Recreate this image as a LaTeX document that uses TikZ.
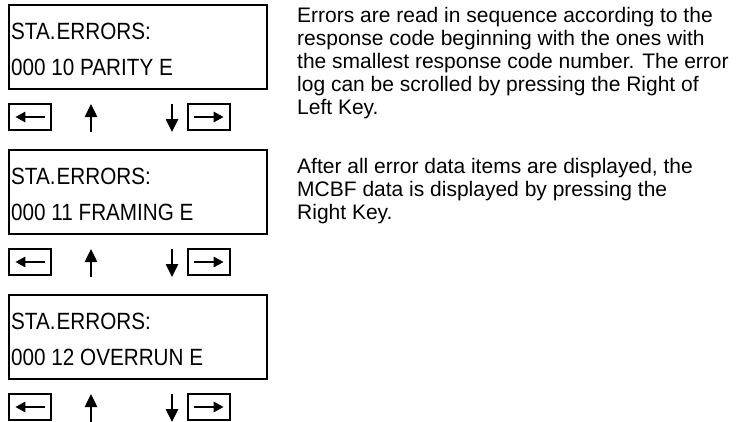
\documentclass[tikz,border=0pt]{standalone}
\usepackage{fontspec}
\setmainfont{Liberation Sans}
\newfontfamily\lcdfont[FakeStretch=0.88]{Liberation Sans}
\usetikzlibrary{arrows.meta, positioning, calc}

\begin{document}
\begin{tikzpicture}[x=1pt, y=-1pt,
    lcd/.style={draw, line width=2.6pt, minimum width=258pt,
                minimum height=84pt, inner sep=0pt},
    lcdtext/.style={anchor=base west, inner sep=0pt,
                    font=\lcdfont\fontsize{23.5}{26}\selectfont},
    keybox/.style={draw, line width=1.4pt, minimum width=42pt,
                   minimum height=26pt, inner sep=0pt},
    keyarrow/.style={-{Triangle[length=10pt, width=10pt]}, line width=2.5pt},
    navarrow/.style={-{Triangle[length=13pt, width=12pt]}, line width=2.5pt},
    note/.style={anchor=north west, inner sep=0pt, align=left,
                 font=\fontsize{21}{23}\selectfont}]
  \useasboundingbox (0,0) rectangle (739,421);

  % first error
  \node[lcd] (disp1) at (138,47) {};
  \node[lcdtext] (disp1a) at (11,39) {STA.\kern1pt ERRORS:};
  \node[lcdtext] (disp1b) at (11,75) {000 10 PARITY E};
  \node[keybox] (left1) at (30,117) {};
  \node[keybox] (right1) at (209,117) {};
  \draw[keyarrow] ([xshift=-7pt]left1.east) -- ([xshift=7pt]left1.west);
  \draw[keyarrow] ([xshift=7pt]right1.west) -- ([xshift=-7pt]right1.east);
  \coordinate (up1a) at (91,132);
  \coordinate (up1b) at (91,104);
  \coordinate (down1a) at (172,104);
  \coordinate (down1b) at (172,132);
  \draw[navarrow] (up1a) -- (up1b);
  \draw[navarrow] (down1a) -- (down1b);

  % second error
  \node[lcd] (disp2) at (138,192) {};
  \node[lcdtext] (disp2a) at (11,184) {STA.\kern1pt ERRORS:};
  \node[lcdtext] (disp2b) at (11,220) {000 11 FRAMING E};
  \node[keybox] (left2) at (30,262) {};
  \node[keybox] (right2) at (209,262) {};
  \draw[keyarrow] ([xshift=-7pt]left2.east) -- ([xshift=7pt]left2.west);
  \draw[keyarrow] ([xshift=7pt]right2.west) -- ([xshift=-7pt]right2.east);
  \coordinate (up2a) at (91,277);
  \coordinate (up2b) at (91,249);
  \coordinate (down2a) at (172,249);
  \coordinate (down2b) at (172,277);
  \draw[navarrow] (up2a) -- (up2b);
  \draw[navarrow] (down2a) -- (down2b);

  % third error
  \node[lcd] (disp3) at (138,337) {};
  \node[lcdtext] (disp3a) at (11,329) {STA.\kern1pt ERRORS:};
  \node[lcdtext] (disp3b) at (11,365) {000 12 OVERRUN E};
  \node[keybox] (left3) at (30,407) {};
  \node[keybox] (right3) at (209,407) {};
  \draw[keyarrow] ([xshift=-7pt]left3.east) -- ([xshift=7pt]left3.west);
  \draw[keyarrow] ([xshift=7pt]right3.west) -- ([xshift=-7pt]right3.east);
  \coordinate (up3a) at (91,422);
  \coordinate (up3b) at (91,394);
  \coordinate (down3a) at (172,394);
  \coordinate (down3b) at (172,422);
  \draw[navarrow] (up3a) -- (up3b);
  \draw[navarrow] (down3a) -- (down3b);

  % explanation
  \node[note] (para1) at (297,7)
    {Errors are read in sequence according to the\\
     response code beginning with the ones with\\
     the smallest response code number. The error\\
     log can be scrolled by pressing the Right of\\
     Left Key.};
  \node[note] (para2) at (297,158)
    {After all error data items are displayed, the\\
     MCBF data is displayed by pressing the\\
     Right Key.};
\end{tikzpicture}
\end{document}
